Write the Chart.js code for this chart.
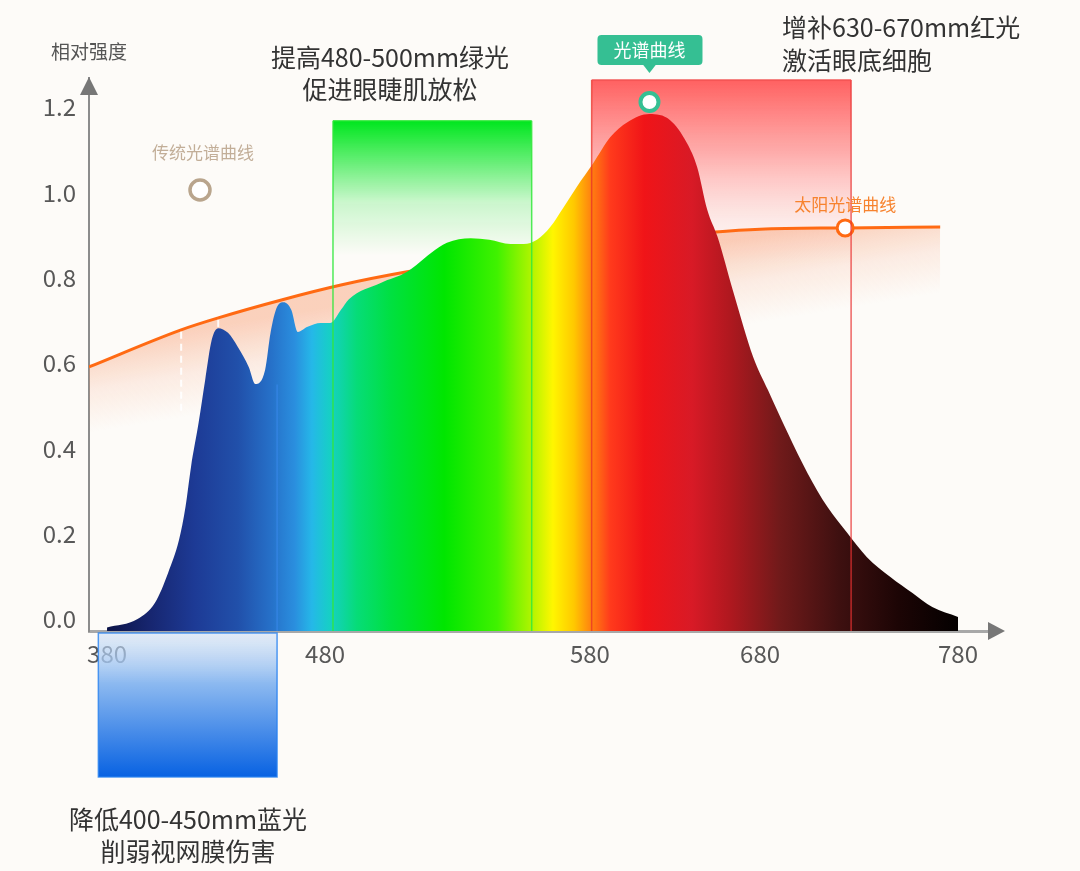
<!DOCTYPE html>
<html>
<head>
<meta charset="utf-8">
<title>光谱曲线</title>
<script src="https://cdn.jsdelivr.net/npm/chart.js@4.4.1/dist/chart.umd.min.js"></script>
<style>
  html, body { margin: 0; padding: 0; background: #fdfbf8; }
  #wrap { width: 1080px; height: 871px; }
</style>
</head>
<body>
<div id="wrap"><canvas id="spectrum" width="1080" height="871"></canvas></div>
<script>
// LED spectrum ("光谱曲线")
const ledWavelengths = [380, 394, 402, 408, 413, 416, 418.5, 422, 425, 428, 431, 435.5, 440, 445, 448,
  452.5, 455, 458, 461, 464.5, 467.5, 472, 478, 482, 486, 489, 501, 511, 520, 526, 535, 542, 550, 555,
  560, 565, 570, 575, 582, 592, 602, 615, 627, 637, 643, 649, 655, 664, 676, 684, 694, 704, 714, 724,
  734, 746, 757, 767, 780];
const ledIntensity = [-0.02, 0.0, 0.038, 0.108, 0.185, 0.263, 0.356, 0.46, 0.56, 0.654, 0.682, 0.671,
  0.638, 0.591, 0.551, 0.584, 0.671, 0.732, 0.743, 0.725, 0.673, 0.685, 0.694, 0.694, 0.725, 0.75, 0.788,
  0.814, 0.858, 0.882, 0.893, 0.889, 0.879, 0.879, 0.889, 0.919, 0.965, 1.013, 1.069, 1.13, 1.165, 1.184,
  1.17, 1.116, 1.06, 0.959, 0.896, 0.771, 0.614, 0.537, 0.436, 0.342, 0.263, 0.202, 0.145, 0.098, 0.061,
  0.028, 0.005];

// sunlight ("太阳光谱曲线")
const sunWavelengths = [371.7, 414, 431, 460, 486, 511, 580, 652, 680, 723, 771];
const sunIntensity = [0.591, 0.678, 0.706, 0.748, 0.783, 0.814, 0.88, 0.907, 0.914, 0.917, 0.919];
const sunMarkerIndex = 9;

// highlighted bands: [from nm, to nm, top value]
const blueBand = [376, 458];
const greenBand = [483, 558, 1.168];
const redBand = [581, 726, 1.264];

const xTicks = [380, 480, 580, 680, 780];
const yTicks = [0, 0.2, 0.4, 0.6, 0.8, 1.0, 1.2];

const FONT = "'Noto Sans CJK SC', 'Noto Sans', sans-serif";

// the x axis in the picture is not evenly spaced: wavelength -> fraction of axis
const axisKnots = [[371.7, 0], [380, 0.0198], [480, 0.2591], [580, 0.5499], [680, 0.7366], [780, 0.9539], [801.2, 1]];

function warp(v) {
  const k = axisKnots;
  let i = 0;
  while (i < k.length - 2 && v > k[i + 1][0]) i++;
  const a = k[i], b = k[i + 1];
  return a[1] + (v - a[0]) / (b[0] - a[0]) * (b[1] - a[1]);
}

function unwarp(d) {
  const k = axisKnots;
  let i = 0;
  while (i < k.length - 2 && d > k[i + 1][1]) i++;
  const a = k[i], b = k[i + 1];
  return a[0] + (d - a[1]) / (b[1] - a[1]) * (b[0] - a[0]);
}

class WarpScale extends Chart.LinearScale {
  getPixelForValue(value) {
    return this.getPixelForDecimal(warp(value));
  }
  getValueForPixel(pixel) {
    return unwarp(this.getDecimalForPixel(pixel));
  }
}
WarpScale.id = 'warp';
WarpScale.defaults = Chart.LinearScale.defaults;
Chart.register(WarpScale);

const spectrumStops = [[380, '#0c1448'], [400, '#172670'], [420, '#1d3a95'], [440, '#2150aa'], [455, '#2670c8'],
  [466, '#2a8ede'], [474, '#25b8e8'], [482, '#16d0c4'], [492, '#06dc78'], [505, '#00e040'], [525, '#00e600'],
  [545, '#40f200'], [557, '#a8f400'], [566, '#fff600'], [574, '#ffc800'], [581, '#ff8010'], [592, '#ff3a1c'],
  [612, '#f01418'], [640, '#d81a26'], [662, '#b0181f'], [690, '#701a1a'], [720, '#3e1010'], [750, '#1c0505'],
  [780, '#040000']];

function spectrumFill(context) {
  const chart = context.chart;
  const x = chart.scales.x;
  if (!chart.chartArea || !x) return 'rgba(0,0,0,0)';
  const x0 = x.getPixelForValue(380), x1 = x.getPixelForValue(780);
  const g = chart.ctx.createLinearGradient(x0, 0, x1, 0);
  spectrumStops.forEach(([w, col]) => g.addColorStop((x.getPixelForValue(w) - x0) / (x1 - x0), col));
  return g;
}

function sunFill(context) {
  const chart = context.chart;
  const { x, y } = chart.scales;
  if (!chart.chartArea || !x) return 'rgba(0,0,0,0)';
  const last = sunWavelengths.length - 1;
  const ax = x.getPixelForValue(sunWavelengths[0]), ay = y.getPixelForValue(sunIntensity[0]);
  const bx = x.getPixelForValue(sunWavelengths[last]), by = y.getPixelForValue(sunIntensity[last]);
  const len = Math.hypot(bx - ax, by - ay);
  const nx = -(by - ay) / len, ny = (bx - ax) / len;
  const sx = (ax + bx) / 2 - nx * 20, sy = (ay + by) / 2 - ny * 20;
  const g = chart.ctx.createLinearGradient(sx, sy, sx + nx * 85, sy + ny * 85);
  g.addColorStop(0, 'rgba(247,150,105,0.42)');
  g.addColorStop(0.5, 'rgba(247,150,105,0.15)');
  g.addColorStop(1, 'rgba(247,150,105,0)');
  return g;
}

function bandBox(chart, band) {
  const { x, y } = chart.scales;
  return {
    l: x.getPixelForValue(band[0]),
    r: x.getPixelForValue(band[1]),
    t: band.length > 2 ? y.getPixelForValue(band[2]) : chart.chartArea.bottom,
    b: chart.chartArea.bottom
  };
}

function vline(c, xp, y0, y1, color, w) {
  c.strokeStyle = color;
  c.lineWidth = w;
  c.beginPath();
  c.moveTo(xp, y0);
  c.lineTo(xp, y1);
  c.stroke();
}

function text(c, str, x, y, size, color, align) {
  c.font = size + 'px ' + FONT;
  c.fillStyle = color;
  c.textAlign = align || 'center';
  c.textBaseline = 'middle';
  c.fillText(str, x, y);
}

function ring(c, x, y, r, color, w) {
  c.beginPath();
  c.arc(x, y, r, 0, Math.PI * 2);
  c.fillStyle = '#ffffff';
  c.fill();
  c.strokeStyle = color;
  c.lineWidth = w;
  c.stroke();
}

const decorPlugin = {
  id: 'decor',
  beforeDatasetsDraw(chart) {
    const c = chart.ctx;
    c.save();
    // red band
    const r = bandBox(chart, redBand);
    let g = c.createLinearGradient(0, r.t, 0, r.t + 185);
    g.addColorStop(0, 'rgba(255,88,88,0.95)');
    g.addColorStop(0.4, 'rgba(255,110,110,0.55)');
    g.addColorStop(0.75, 'rgba(255,150,150,0.18)');
    g.addColorStop(1, 'rgba(255,180,180,0)');
    c.fillStyle = g;
    c.fillRect(r.l, r.t, r.r - r.l, r.b - r.t);
    // green band
    const gr = bandBox(chart, greenBand);
    g = c.createLinearGradient(0, gr.t, 0, gr.t + 135);
    g.addColorStop(0, 'rgba(0,230,30,1)');
    g.addColorStop(0.3, 'rgba(0,230,30,0.6)');
    g.addColorStop(0.6, 'rgba(0,230,30,0.2)');
    g.addColorStop(1, 'rgba(0,230,30,0)');
    c.fillStyle = g;
    c.fillRect(gr.l, gr.t, gr.r - gr.l, gr.b - gr.t);
    // blue band, hanging under the axis
    const bl = bandBox(chart, blueBand);
    const top = chart.chartArea.bottom + 2, bottom = chart.chartArea.bottom + 146;
    g = c.createLinearGradient(0, top, 0, bottom);
    g.addColorStop(0, 'rgba(200,220,245,0.5)');
    g.addColorStop(0.35, 'rgba(140,185,240,1)');
    g.addColorStop(1, 'rgba(8,98,226,1)');
    c.fillStyle = g;
    c.fillRect(bl.l, top, bl.r - bl.l, bottom - top);
    c.strokeStyle = 'rgba(40,130,240,0.8)';
    c.lineWidth = 1.5;
    c.strokeRect(bl.l, top, bl.r - bl.l, bottom - top);
    c.restore();
  },
  afterDatasetDraw(chart, args) {
    if (args.index !== 1) return;
    // faint dashed drops under the sunlight curve
    const pts = chart.getDatasetMeta(1).data;
    const c = chart.ctx;
    c.save();
    c.setLineDash([7, 5]);
    vline(c, pts[1].x, pts[1].y + 2, pts[1].y + 84, 'rgba(255,255,255,0.9)', 2);
    vline(c, pts[2].x, pts[2].y + 2, pts[2].y + 12, 'rgba(255,255,255,0.9)', 2);
    c.restore();
  },
  afterDatasetsDraw(chart) {
    const c = chart.ctx;
    const area = chart.chartArea;
    c.save();
    // band outlines on top of the spectrum
    const r = bandBox(chart, redBand);
    vline(c, r.l, r.t, r.b, 'rgba(232,50,40,0.75)', 1.5);
    vline(c, r.r, r.t, r.b, 'rgba(232,50,50,0.75)', 1.5);
    c.strokeStyle = 'rgba(240,80,80,0.9)';
    c.beginPath(); c.moveTo(r.l, r.t); c.lineTo(r.r, r.t); c.stroke();
    const gr = bandBox(chart, greenBand);
    vline(c, gr.l, gr.t, gr.b, 'rgba(50,232,60,0.85)', 1.5);
    vline(c, gr.r, gr.t, gr.b, 'rgba(50,232,60,0.85)', 1.5);
    c.strokeStyle = 'rgba(50,232,60,0.85)';
    c.beginPath(); c.moveTo(gr.l, gr.t); c.lineTo(gr.r, gr.t); c.stroke();
    const bl = bandBox(chart, blueBand);
    vline(c, bl.r, chart.scales.y.getPixelForValue(0.55), area.bottom, 'rgba(60,140,240,0.55)', 1.5);

    // peak marker with tag
    const led = chart.getDatasetMeta(0).data;
    let pk = 0;
    ledIntensity.forEach((v, i) => { if (v > ledIntensity[pk]) pk = i; });
    const mx = led[pk].x, my = led[pk].y - 12;
    c.fillStyle = '#35bf93';
    c.beginPath();
    c.roundRect(mx - 52, my - 67, 105, 30, 4);
    c.fill();
    c.beginPath();
    c.moveTo(mx - 7, my - 38); c.lineTo(mx + 7, my - 38); c.lineTo(mx, my - 29);
    c.closePath(); c.fill();
    text(c, '光谱曲线', mx, my - 52, 18, '#ffffff');
    ring(c, mx, my, 9, '#35bf93', 4);

    // sunlight label
    const sp = chart.getDatasetMeta(1).data[sunMarkerIndex];
    text(c, '太阳光谱曲线', sp.x, sp.y - 23, 17, '#f7832e');

    // traditional curve legend
    text(c, '传统光谱曲线', 203, 153, 17, '#c2ae98');
    ring(c, 200, 190, 10, '#b9a58d', 3.5);

    // annotations
    text(c, '提高480-500mm绿光', 390, 57, 25, '#333333');
    text(c, '促进眼睫肌放松', 390, 89, 25, '#333333');
    text(c, '增补630-670mm红光', 782, 27, 25, '#333333', 'left');
    text(c, '激活眼底细胞', 782, 60, 25, '#333333', 'left');
    text(c, '降低400-450mm蓝光', 188, 819, 25, '#333333');
    text(c, '削弱视网膜伤害', 188, 851, 25, '#333333');
    text(c, '相对强度', area.left, 52, 19, '#555555');

    // axis arrows
    c.fillStyle = '#777777';
    c.beginPath();
    c.moveTo(area.left, area.top - 1); c.lineTo(area.left - 9, area.top + 17); c.lineTo(area.left + 9, area.top + 17);
    c.closePath(); c.fill();
    c.beginPath();
    c.moveTo(area.right + 5, area.bottom); c.lineTo(area.right - 12, area.bottom - 9); c.lineTo(area.right - 12, area.bottom + 9);
    c.closePath(); c.fill();
    c.restore();
  }
};

new Chart(document.getElementById('spectrum'), {
  type: 'line',
  data: {
    datasets: [
      {
        label: '光谱曲线',
        data: ledWavelengths.map((w, i) => ({ x: w, y: ledIntensity[i] })),
        borderWidth: 0,
        borderColor: 'rgba(0,0,0,0)',
        backgroundColor: spectrumFill,
        fill: 'start',
        pointRadius: 0,
        cubicInterpolationMode: 'monotone'
      },
      {
        label: '太阳光谱曲线',
        data: sunWavelengths.map((w, i) => ({ x: w, y: sunIntensity[i] })),
        borderWidth: 3,
        borderColor: '#ff6a13',
        backgroundColor: sunFill,
        fill: 'start',
        pointRadius: (ctx) => ctx.dataIndex === sunMarkerIndex ? 8 : 0,
        pointBackgroundColor: '#ffffff',
        pointBorderColor: '#ff6a13',
        pointBorderWidth: 3,
        cubicInterpolationMode: 'monotone'
      }
    ]
  },
  options: {
    responsive: false,
    animation: false,
    layout: { padding: { top: 78, right: 80, bottom: 200, left: 0 } },
    plugins: { legend: { display: false }, tooltip: { enabled: false } },
    scales: {
      x: {
        type: 'warp',
        min: 371.7,
        max: 801.2,
        grid: { display: false, drawTicks: false },
        border: { display: true, color: '#a8a8a8', width: 3 },
        afterBuildTicks: (s) => { s.ticks = xTicks.map(v => ({ value: v })); },
        afterFit: (s) => { s.height = 40; },
        ticks: {
          padding: 8,
          color: '#585858',
          font: { size: 24, family: FONT },
          callback: (v) => String(v)
        }
      },
      y: {
        min: -0.0281,
        max: 1.2685,
        grid: { display: false, drawTicks: false },
        border: { display: true, color: '#8c8c8c', width: 2 },
        afterBuildTicks: (s) => { s.ticks = yTicks.map(v => ({ value: v })); },
        afterFit: (s) => { s.width = 89; },
        ticks: {
          padding: 13,
          color: '#585858',
          font: { size: 24, family: FONT },
          callback: (v) => v.toFixed(1)
        }
      }
    }
  },
  plugins: [decorPlugin]
});
</script>
</body>
</html>
